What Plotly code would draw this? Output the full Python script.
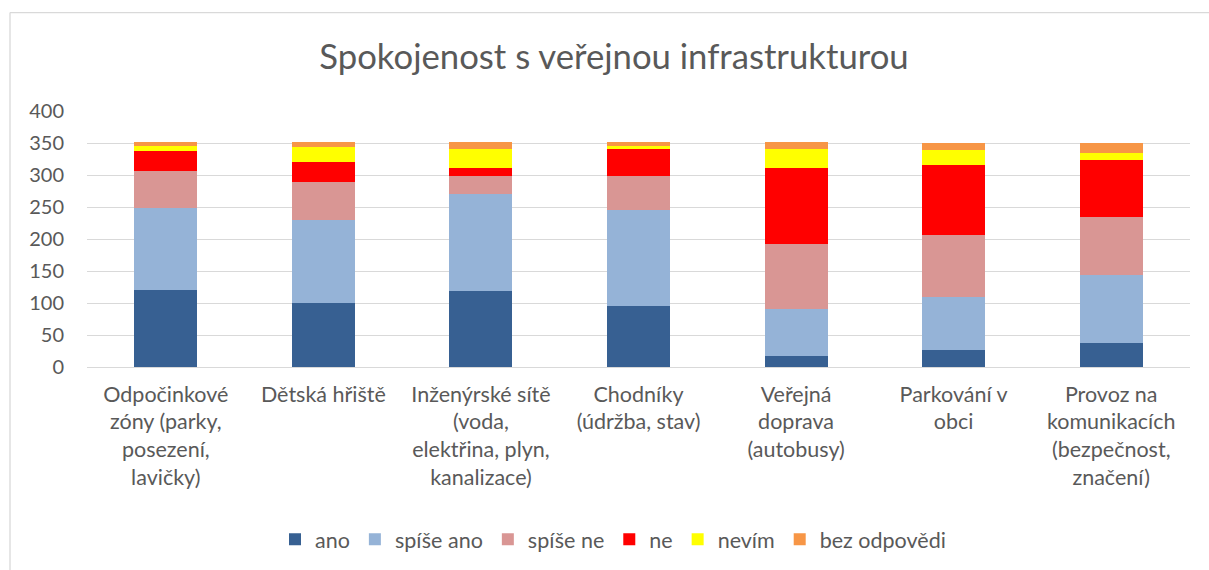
import plotly.graph_objects as go

categories = [
    "Odpočinkové<br>zóny (parky,<br>posezení,<br>lavičky)",
    "Dětská hřiště",
    "Inženýrské sítě<br>(voda,<br>elektřina, plyn,<br>kanalizace)",
    "Chodníky<br>(údržba, stav)",
    "Veřejná<br>doprava<br>(autobusy)",
    "Parkování v<br>obci",
    "Provoz na<br>komunikacích<br>(bezpečnost,<br>značení)",
]

ano = [121, 100, 119, 96, 17, 26, 37]
spise_ano = [128, 129, 152, 150, 74, 83, 107]
spise_ne = [57, 60, 28, 52, 101, 98, 90]
ne = [32, 31, 12, 44, 119, 109, 89]
nevim = [7, 24, 29, 3, 30, 23, 12]
bez_odpovedi = [6, 7, 11, 6, 10, 11, 15]

series_names = ["ano", "spíše ano", "spíše ne", "ne", "nevím", "bez odpovědi"]
series_values = [ano, spise_ano, spise_ne, ne, nevim, bez_odpovedi]
colors = ["#376092", "#95B3D7", "#D99694", "#FF0000", "#FFFF00", "#F79646"]

FONT = "Lato"
GRAY = "#595959"

fig = go.Figure()
for name, vals, col in zip(series_names, series_values, colors):
    fig.add_trace(go.Bar(
        x=categories, y=vals, name=name,
        marker=dict(color=col, line=dict(width=0)),
    ))

W, H = 1209, 570
L, R = 87, 1190
T, B = 110.7, 367.3
pw, ph = R - L, B - T

def px(x):
    return (x - L) / pw

def py(y):
    return (B - y) / ph

fig.update_layout(
    width=W, height=H,
    barmode="stack",
    bargap=0.6,
    paper_bgcolor="white",
    plot_bgcolor="white",
    margin=dict(l=L, r=W - R, t=T, b=H - B, pad=0, autoexpand=False),
    font=dict(family=FONT, color=GRAY, size=19),
    title=dict(
        text="Spokojenost s veřejnou infrastrukturou",
        x=614 / W, xanchor="center", xref="container",
        y=1 - 57 / H, yanchor="middle", yref="container",
        font=dict(family=FONT, size=34.7, color=GRAY),
    ),
    legend=dict(
        orientation="h",
        x=613 / W, xanchor="center", xref="container",
        y=py(540), yanchor="middle",
        font=dict(family=FONT, size=21.5, color=GRAY),
        traceorder="normal",
    ),
    showlegend=True,
    xaxis=dict(
        showgrid=False, showline=False, zeroline=False,
        ticks="", tickfont=dict(family=FONT, size=21.5, color=GRAY),
        ticklabelstandoff=12,
        tickangle=0,
    ),
    yaxis=dict(
        range=[0, 400], dtick=50, tick0=0,
        showgrid=True, gridcolor="#D9D9D9", gridwidth=1.3,
        zeroline=True, zerolinecolor="#D9D9D9", zerolinewidth=1.3,
        showline=False, ticks="",
        tickfont=dict(family=FONT, size=20, color=GRAY),
        ticklabelstandoff=22,
    ),
    shapes=[
        dict(type="line", xref="paper", yref="paper",
             x0=px(10), x1=px(1400), y0=py(12), y1=py(12),
             line=dict(color="#D9D9D9", width=1.3), layer="below"),
        dict(type="line", xref="paper", yref="paper",
             x0=px(10), x1=px(10), y0=py(12), y1=py(700),
             line=dict(color="#D9D9D9", width=1.3), layer="below"),
    ],
)

fig.write_html(
    "out.html",
    config={"displayModeBar": False},
    post_script="document.body.style.margin='0';document.body.style.overflow='hidden';",
)
